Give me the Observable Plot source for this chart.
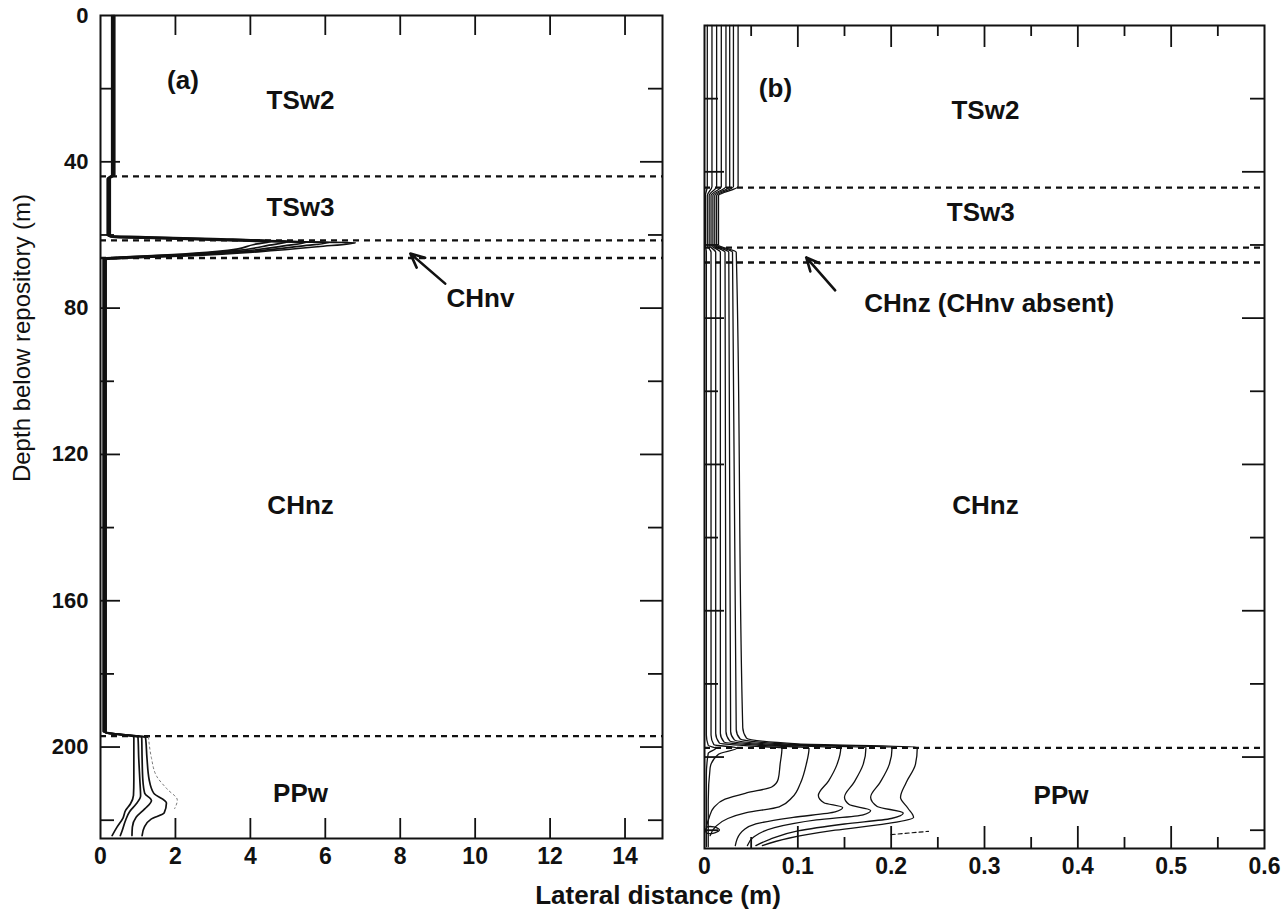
<!DOCTYPE html>
<html><head><meta charset="utf-8">
<script src="https://cdn.jsdelivr.net/npm/d3@7"></script>
<script src="https://cdn.jsdelivr.net/npm/@observablehq/plot@0.6"></script>
<style>
body{margin:0;background:#fff;font-family:"Liberation Sans",Arial,Helvetica,sans-serif;}
#root{position:relative;width:1286px;height:920px;overflow:hidden;background:#fff}
.panel{position:absolute;top:0}
#pa{left:0px} #pb{left:690px}
#ytitle{position:absolute;left:22px;top:338px;transform:translate(-50%,-50%) rotate(-90deg);font-size:24px;white-space:nowrap;color:#111}
#xtitle{position:absolute;left:658px;top:895px;transform:translate(-50%,-50%);font-size:26px;font-weight:bold;white-space:nowrap;color:#111}
</style></head>
<body>
<div id="root">
  <div id="pa" class="panel"></div>
  <div id="pb" class="panel"></div>
  <div id="ytitle">Depth below repository (m)</div>
  <div id="xtitle">Lateral distance (m)</div>
</div>
<script>
// ---------- axis ticks / labels ----------
const aXTicks = [0, 2, 4, 6, 8, 10, 12, 14];
const aXTickLabels = ["0", "2", "4", "6", "8", "10", "12", "14"];
const aYTickLabels = [0, 40, 80, 120, 160, 200];
const yMajorTicks = [40, 80, 120, 160, 200];
const yMinorTicks = [20, 60, 100, 140, 180, 220];
const bXTicks = [0, 0.1, 0.2, 0.3, 0.4, 0.5, 0.6];
const bXTickLabels = ["0", "0.1", "0.2", "0.3", "0.4", "0.5", "0.6"];
const bXMinorTicks = [0.05, 0.15, 0.25, 0.35, 0.45, 0.55];

// ---------- layer boundaries (depth, m) ----------
const aBoundaries = [44, 61.5, 66.3, 197];
const bBoundaries = [44.3, 60.7, 64.8, 197.5];

// ---------- layer labels ----------
const aLabelText = ["(a)", "TSw2", "TSw3", "CHnv", "CHnz", "PPw"];
const aLabelX = [2.2, 5.34, 5.34, 10.14, 5.34, 5.34];
const aLabelDepth = [17.8, 23.2, 52.5, 77.4, 134, 212.7];
const bLabelText = ["(b)", "TSw2", "TSw3", "CHnz (CHnv absent)", "CHnz", "PPw"];
const bLabelX = [0.076, 0.301, 0.296, 0.305, 0.301, 0.382];
const bLabelDepth = [17.2, 23.2, 51.1, 76, 131.2, 210.5];

// arrows [x1, d1, x2, d2]
const aArrow = [9.2, 73.3, 8.27, 65.1];
const bArrow = [0.140, 72.4, 0.109, 63.4];

// ---------- panel (a) contours: [lateral distance m, depth m] ----------
const aUpper0 = [[0.30,0],[0.30,43.6],[0.18,44.6],[0.18,60.2],[1.2,60.5],[3.0,61.0],[4.6,61.6],[4.1,62.6],[3.4,64.2],[2.2,65.2],[0.8,65.9],[0.07,66.3],[0.07,195.8],[0.4,196.4],[0.89,197.2]];
const aUpper1 = [[0.32,0],[0.32,43.6],[0.20,44.6],[0.20,60.3],[1.2,60.6],[3.0,61.1],[4.7,61.6],[5.0,61.8],[4.5,62.8],[3.6,64.3],[2.3,65.3],[0.8,66.0],[0.09,66.4],[0.09,195.9],[0.5,196.5],[1.0,197.3]];
const aUpper2 = [[0.34,0],[0.34,43.6],[0.22,44.6],[0.22,60.4],[1.2,60.7],[3.0,61.2],[4.8,61.7],[5.5,61.9],[4.9,63.0],[3.8,64.4],[2.4,65.4],[0.8,66.1],[0.11,66.5],[0.11,196.0],[0.6,196.6],[1.1,197.3]];
const aUpper3 = [[0.36,0],[0.36,43.6],[0.24,44.6],[0.24,60.5],[1.2,60.8],[3.0,61.3],[4.9,61.8],[6.1,62.0],[5.3,63.1],[4.0,64.5],[2.5,65.5],[0.8,66.2],[0.13,66.6],[0.13,196.1],[0.7,196.7],[1.2,197.3]];
const aUpper4 = [[0.38,0],[0.38,43.6],[0.26,44.6],[0.26,60.6],[1.2,60.9],[3.0,61.4],[5.0,61.9],[6.8,62.1],[5.8,63.2],[4.2,64.6],[2.6,65.6],[0.8,66.3],[0.15,66.7],[0.15,196.2],[0.8,196.8],[1.28,197.3]];
const aPPwA = [[0.89,197.2],[0.89,203],[0.89,209],[0.88,213.2],[0.80,215.5],[0.67,217.3],[0.60,219.4],[0.44,221.9],[0.31,224.2]];
const aPPwB = [[1.0,197.3],[1.02,203],[1.05,209],[1.07,213.4],[0.95,215.6],[0.78,217.6],[0.67,220],[0.58,222.8],[0.53,224.2]];
const aPPwC = [[1.1,197.3],[1.11,203],[1.13,209],[1.18,212.6],[1.36,214.6],[1.18,216.9],[0.95,219.2],[0.85,221.9],[0.84,224.2]];
const aPPwD = [[1.2,197.3],[1.24,203],[1.30,209],[1.42,212.6],[1.76,215.3],[1.70,218.0],[1.35,219.7],[1.17,221.9],[1.11,224.2]];
const aPPwE = [[1.28,197.3],[1.36,203],[1.50,208],[1.78,211.5],[2.05,214.5],[1.98,216.8]];

// ---------- panel (b) contours ----------
const bUpper0 = [[0.003,0],[0.003,44],[0.001,46.5],[0.001,60],[0.002,62],[0.002,194],[0.004,196.8],[0.012,197.6],[0.004,199],[0.002,205],[0.002,224.5]];
const bUpper1 = [[0.008,0],[0.008,44],[0.003,46.5],[0.003,60],[0.007,62],[0.007,194],[0.010,196.6],[0.035,197.5],[0.015,199.2],[0.006,203],[0.004,212],[0.004,224.5]];
const bUpper2 = [[0.013,0],[0.013,44],[0.005,46.5],[0.005,60],[0.012,62],[0.012,193.5],[0.016,196.2],[0.05,197.0]];
const bUpper3 = [[0.018,0],[0.018,44],[0.007,46.5],[0.007,60],[0.017,62],[0.017,193.5],[0.021,195.9],[0.06,196.8]];
const bUpper4 = [[0.023,0],[0.023,44],[0.009,46.5],[0.009,60],[0.022,62],[0.023,193],[0.027,195.6],[0.07,196.7]];
const bUpper5 = [[0.027,0],[0.027,44],[0.011,46.5],[0.011,60],[0.026,62],[0.028,193],[0.032,195.3],[0.08,196.6]];
const bUpper6 = [[0.031,0],[0.031,44],[0.013,46.5],[0.013,60],[0.030,62],[0.034,192.5],[0.038,195],[0.09,196.5]];
const bUpper7 = [[0.036,0],[0.036,44],[0.015,46.5],[0.015,60],[0.034,62],[0.041,192],[0.045,194.8],[0.10,196.4]];
const bPPw1 = [[0.083,197.5],[0.081,202],[0.079,206],[0.072,208.2],[0.045,209.8],[0.022,211.5],[0.010,213.8],[0.005,216.5],[0.002,219]];
const bPPw2 = [[0.112,197.5],[0.109,202],[0.103,207],[0.094,211],[0.080,213.6],[0.045,215.2],[0.025,216.8],[0.012,219],[0.006,221.5]];
const bPPw3 = [[0.146,197.5],[0.142,202],[0.133,206.5],[0.122,210.5],[0.128,212.5],[0.148,213.8],[0.140,215],[0.095,216.5],[0.055,218.3],[0.038,221],[0.033,224.2]];
const bPPw4 = [[0.173,197.4],[0.170,202],[0.160,207],[0.150,211],[0.155,213],[0.178,214.6],[0.170,215.8],[0.120,217.2],[0.075,219.3],[0.052,222],[0.046,224.2]];
const bPPw5 = [[0.201,197.3],[0.198,202],[0.188,207],[0.178,211],[0.185,213.5],[0.213,215.3],[0.200,216.8],[0.150,218.3],[0.100,220.2],[0.070,222.5],[0.055,224.2]];
const bPPw6 = [[0.228,197.3],[0.226,202],[0.216,207],[0.210,211],[0.218,214],[0.224,216.5],[0.195,218.2],[0.140,220],[0.090,222.2],[0.062,224.2]];
const bLoop = [[0.002,219.3],[0.010,219.1],[0.016,219.9],[0.011,220.7],[0.002,220.7]];
const bDashPiece = [[0.200,221.2],[0.240,220.3]];

// ---------- build tables ----------
const toRows = (series) => series.flatMap((pts, id) => pts.map(([x, d]) => ({id, x, d})));
const aSolid = toRows([aUpper0.concat(aPPwA.slice(1)), aUpper1.concat(aPPwB.slice(1)), aUpper2.concat(aPPwC.slice(1)), aUpper3.concat(aPPwD.slice(1)), aUpper4]);
const aFaint = toRows([aPPwE]);
const bSolid = toRows([bUpper0, bUpper1, bUpper2.concat(bPPw1), bUpper3.concat(bPPw2), bUpper4.concat(bPPw3), bUpper5.concat(bPPw4), bUpper6.concat(bPPw5), bUpper7.concat(bPPw6)]);
const bLoopRows = toRows([bLoop]);
const bDash = toRows([bDashPiece]);
const labelRows = (t, xs, ds) => t.map((s, i) => ({t: s, x: xs[i], d: ds[i]}));
const aLabels = labelRows(aLabelText, aLabelX, aLabelDepth);
const bLabels = labelRows(bLabelText, bLabelX, bLabelDepth);
const aXLab = aXTicks.map((v, i) => ({v, s: aXTickLabels[i]}));
const bXLab = bXTicks.map((v, i) => ({v, s: bXTickLabels[i]}));

const INK = "#111";
const FONT = '"Liberation Sans", Arial, Helvetica, sans-serif';

function frameTicks(opts) {
  const {pw, ph, xMajor, xMinor, xMajorLen, xMinorLen} = opts;
  const m = [];
  m.push(Plot.tickX(xMajor, {x: d => d, insetTop: ph - xMajorLen, stroke: INK, strokeWidth: 1.8}));
  m.push(Plot.tickX(xMajor, {x: d => d, insetBottom: ph - xMajorLen, stroke: INK, strokeWidth: 1.8}));
  if (xMinor) {
    m.push(Plot.tickX(xMinor, {x: d => d, insetTop: ph - xMinorLen, stroke: INK, strokeWidth: 1.8}));
    m.push(Plot.tickX(xMinor, {x: d => d, insetBottom: ph - xMinorLen, stroke: INK, strokeWidth: 1.8}));
  }
  m.push(Plot.tickY(yMajorTicks, {y: d => d, insetRight: pw - 20, stroke: INK, strokeWidth: 1.8}));
  m.push(Plot.tickY(yMinorTicks, {y: d => d, insetRight: pw - 14, stroke: INK, strokeWidth: 1.8}));
  m.push(Plot.tickY(yMajorTicks, {y: d => d, insetLeft: pw - 22, stroke: INK, strokeWidth: 1.8}));
  m.push(Plot.tickY(yMinorTicks, {y: d => d, insetLeft: pw - 14, stroke: INK, strokeWidth: 1.8}));
  return m;
}

// ---------- panel (a) ----------
const aW = 690, aH = 900, aML = 100, aMR = 28, aMT = 15, aMB = 62;
const plotA = Plot.plot({
  width: aW, height: aH, marginLeft: aML, marginRight: aMR, marginTop: aMT, marginBottom: aMB,
  x: {domain: [0, 15], axis: null},
  y: {domain: [0, 225], reverse: true, axis: null},
  style: {fontFamily: FONT, background: "white", color: INK, overflow: "visible"},
  marks: [
    Plot.ruleY(aBoundaries, {y: d => d, stroke: INK, strokeWidth: 2.3, strokeDasharray: "6,5"}),
    Plot.line(aSolid, {x: "x", y: "d", z: "id", curve: "monotone-y", stroke: INK, strokeWidth: 1.7}),
    Plot.line(aFaint, {x: "x", y: "d", z: "id", curve: "monotone-y", stroke: "#777", strokeWidth: 1, strokeDasharray: "2,3"}),
    Plot.frame({stroke: INK, strokeWidth: 2}),
    ...frameTicks({pw: aW - aML - aMR, ph: aH - aMT - aMB, xMajor: aXTicks.slice(1), xMinor: null, xMajorLen: 20}),
    Plot.text(aXLab, {x: "v", text: "s", frameAnchor: "bottom", dy: 25, fontSize: 23, fontWeight: "bold", fill: INK}),
    Plot.text(aYTickLabels, {y: d => d, text: d => String(d), frameAnchor: "left", dx: -12, textAnchor: "end", fontSize: 22, fontWeight: "bold", fill: INK}),
    Plot.text(aLabels, {x: "x", y: "d", text: "t", fontSize: 26, fontWeight: "bold", fill: INK}),
    Plot.arrow([aArrow], {x1: d => d[0], y1: d => d[1], x2: d => d[2], y2: d => d[3], stroke: INK, strokeWidth: 2.6, headLength: 14, headAngle: 50})
  ]
});
document.getElementById("pa").appendChild(plotA);

// ---------- panel (b) ----------
const bW = 596, bH = 900, bML = 14, bMR = 22, bMT = 25, bMB = 52;
const plotB = Plot.plot({
  width: bW, height: bH, marginLeft: bML, marginRight: bMR, marginTop: bMT, marginBottom: bMB,
  x: {domain: [0, 0.6], axis: null},
  y: {domain: [0, 225], reverse: true, axis: null},
  style: {fontFamily: FONT, background: "white", color: INK, overflow: "visible"},
  marks: [
    Plot.ruleY(bBoundaries, {y: d => d, stroke: INK, strokeWidth: 2.3, strokeDasharray: "6,5"}),
    Plot.line(bSolid, {x: "x", y: "d", z: "id", curve: "monotone-y", stroke: INK, strokeWidth: 1.3}),
    Plot.line(bLoopRows, {x: "x", y: "d", z: "id", curve: "catmull-rom-closed", stroke: INK, strokeWidth: 1.3}),
    Plot.line(bDash, {x: "x", y: "d", z: "id", stroke: INK, strokeWidth: 1.2, strokeDasharray: "4,3"}),
    Plot.frame({stroke: INK, strokeWidth: 2}),
    ...frameTicks({pw: bW - bML - bMR, ph: bH - bMT - bMB, xMajor: bXTicks.slice(1, -1), xMinor: bXMinorTicks, xMajorLen: 22, xMinorLen: 11}),
    Plot.text(bXLab, {x: "v", text: "s", frameAnchor: "bottom", dy: 25, fontSize: 23, fontWeight: "bold", fill: INK}),
    Plot.text(bLabels, {x: "x", y: "d", text: "t", fontSize: 26, fontWeight: "bold", fill: INK}),
    Plot.arrow([bArrow], {x1: d => d[0], y1: d => d[1], x2: d => d[2], y2: d => d[3], stroke: INK, strokeWidth: 2.6, headLength: 14, headAngle: 50})
  ]
});
document.getElementById("pb").appendChild(plotB);
</script>
</body></html>
